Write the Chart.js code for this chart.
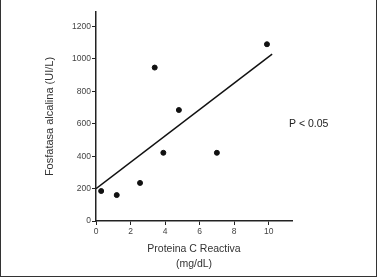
<!DOCTYPE html>
<html>
<head>
<meta charset="utf-8">
<script src="https://cdn.jsdelivr.net/npm/chart.js@4/dist/chart.umd.min.js"></script>
<style>
  body { margin: 0; background: #fff; }
  #frame {
    position: absolute; left: 0; top: 0;
    width: 377px; height: 277px; box-sizing: border-box;
    border-left: 1px solid #333; border-right: 1px solid #333; border-bottom: 1px solid #333;
  }
  #chart { position: absolute; left: 0; top: 0; }
</style>
</head>
<body>
<div id="frame"></div>
<canvas id="chart" width="378" height="278"></canvas>
<script>
// measured points: C-reactive protein vs alkaline phosphatase
const pcrValues = [0.3, 1.2, 2.55, 3.4, 3.9, 4.8, 7.0, 9.9];
const faValues = [185, 160, 235, 947, 421, 685, 421, 1091];

// regression line end points
const fitX = [0, 10.2];
const fitY = [200, 1030];

const xTitle = ['Proteina C Reactiva', '(mg/dL)'];
const yTitle = 'Fosfatasa alcalina (UI/L)';
const pLabel = 'P < 0.05';

const points = pcrValues.map(function (x, i) { return { x: x, y: faValues[i] }; });
const fitLine = fitX.map(function (x, i) { return { x: x, y: fitY[i] }; });

const pText = {
    id: 'pText',
    afterDraw: function (chart) {
        const ctx = chart.ctx;
        const y = chart.scales.y;
        ctx.save();
        ctx.font = '10.5px "Liberation Sans", Arial, sans-serif';
        ctx.fillStyle = '#222';
        ctx.textAlign = 'left';
        ctx.textBaseline = 'middle';
        ctx.fillText(pLabel, chart.chartArea.right - 3, y.getPixelForValue(600));
        ctx.restore();
    }
};

const tickFont = { family: '"Liberation Sans", Arial, sans-serif', size: 8.5 };
const titleFont = { family: '"Liberation Sans", Arial, sans-serif', size: 11 };
const plainNumber = function (value) { return String(value); };

new Chart(document.getElementById('chart').getContext('2d'), {
    type: 'scatter',
    data: {
        datasets: [{
            data: points,
            backgroundColor: '#111',
            borderColor: '#111',
            pointRadius: 2.5,
            pointHoverRadius: 2.5
        }, {
            type: 'line',
            data: fitLine,
            borderColor: '#111',
            borderWidth: 1.5,
            pointRadius: 0,
            tension: 0,
            fill: false
        }]
    },
    options: {
        responsive: false,
        animation: false,
        layout: { padding: { top: 12, right: 86, left: 0, bottom: 0 } },
        plugins: {
            legend: { display: false },
            tooltip: { enabled: false }
        },
        scales: {
            x: {
                type: 'linear',
                min: 0,
                max: 11.35,
                afterFit: function (scale) { scale.height = 57; },
                grid: { display: true, drawOnChartArea: false, drawTicks: true, tickLength: 4, color: '#222' },
                border: { display: true, color: '#222', width: 1.5 },
                ticks: { stepSize: 2, includeBounds: false, padding: 2, color: '#444', font: tickFont, maxRotation: 0, callback: plainNumber },
                title: {
                    display: true,
                    text: xTitle,
                    color: '#333',
                    font: { family: titleFont.family, size: 10.5, lineHeight: 1.38 },
                    padding: { top: 0, bottom: 7 }
                }
            },
            y: {
                min: 0,
                max: 1290,
                afterFit: function (scale) { scale.width = 96; },
                grid: { display: true, drawOnChartArea: false, drawTicks: true, tickLength: 4, color: '#222' },
                border: { display: true, color: '#222', width: 1.5 },
                ticks: { stepSize: 200, includeBounds: false, padding: 1, color: '#444', font: tickFont, callback: plainNumber },
                title: {
                    display: true,
                    text: yTitle,
                    color: '#333',
                    font: titleFont,
                    padding: { top: 43, bottom: 0 }
                }
            }
        }
    },
    plugins: [pText]
});
</script>
</body>
</html>
